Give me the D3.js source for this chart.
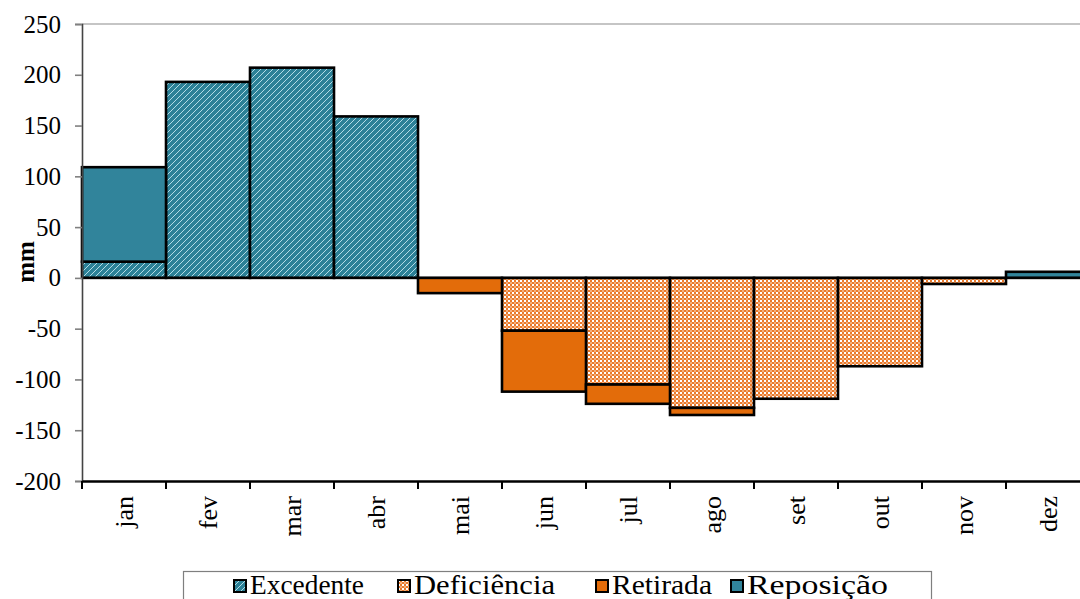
<!DOCTYPE html>
<html>
<head>
<meta charset="utf-8">
<script src="https://cdn.jsdelivr.net/npm/d3@7"></script>
<style>
  body { margin: 0; background: #fff; }
</style>
</head>
<body>
<div id="chart"></div>
<script>
// monthly water balance, stacked columns (mm)

var months = ["jan", "fev", "mar", "abr", "mai", "jun", "jul", "ago", "set", "out", "nov", "dez"];
var excedente  = [16, 193, 207, 159, 0, 0, 0, 0, 0, 0, 0, 0];
var deficiencia = [0, 0, 0, 0, 0, -52, -105, -128, -119, -87, -6, 0];
var retirada   = [0, 0, 0, 0, -15, -60, -19, -7, 0, 0, 0, 0];
var reposicao  = [93, 0, 0, 0, 0, 0, 0, 0, 0, 0, 0, 6];
var yTicks = [250, 200, 150, 100, 50, 0, -50, -100, -150, -200];

var seriesNames = ["Excedente", "Deficiência", "Retirada", "Reposição"];
var seriesKeys = ["exc", "def", "ret", "rep"];

var width = 1080, height = 599;
var padLeft = 82, padTop = 24, padBottom = 481;
var serif = '"Liberation Serif", "Times New Roman", Times, serif';

var table = months.map(function(m, i) {
  return { month: m, exc: excedente[i], def: deficiencia[i], ret: retirada[i], rep: reposicao[i] };
});

var svg = d3.select("#chart").append("svg")
    .attr("width", width)
    .attr("height", height);

var defs = svg.append("defs");

// wide upward diagonal (teal)
var pExc = defs.append("pattern")
    .attr("id", "pat-exc")
    .attr("patternUnits", "userSpaceOnUse")
    .attr("width", 6).attr("height", 6);
pExc.append("rect").attr("width", 6).attr("height", 6).attr("fill", "#2c8197");
pExc.append("path")
    .attr("d", "M-1,7 L7,-1 M-4,4 L4,-4 M2,10 L10,2")
    .attr("stroke", "#b3dbe5").attr("stroke-width", 1.0);

// small checker (orange)
var pDef = defs.append("pattern")
    .attr("id", "pat-def")
    .attr("patternUnits", "userSpaceOnUse")
    .attr("width", 4).attr("height", 4);
pDef.append("rect").attr("width", 4).attr("height", 4).attr("fill", "#ea7a2c");
pDef.append("rect").attr("width", 2).attr("height", 2).attr("fill", "#ffffff");
pDef.append("rect").attr("x", 2).attr("y", 2).attr("width", 2).attr("height", 2).attr("fill", "#f4b07e");

var fills = {
  exc: "url(#pat-exc)",
  def: "url(#pat-def)",
  ret: "#e36c0a",
  rep: "#31849b"
};

var x = d3.scaleBand()
    .domain(months)
    .range([padLeft, padLeft + 84 * 12])
    .padding(0);

var y = d3.scaleLinear()
    .domain([-200, 250])
    .range([padBottom, padTop]);

// plot area top border
svg.append("line")
    .attr("x1", padLeft).attr("x2", width)
    .attr("y1", y(250)).attr("y2", y(250))
    .attr("stroke", "#8c8c8c").attr("stroke-width", 1.2);

// stacked bars
var stack = d3.stack()
    .keys(seriesKeys)
    .offset(d3.stackOffsetDiverging);

var layers = stack(table);

svg.append("g")
  .selectAll("g")
  .data(layers)
  .enter().append("g")
    .attr("fill", function(d) { return fills[d.key]; })
  .selectAll("rect")
  .data(function(d) { return d.filter(function(p) { return p[1] - p[0] !== 0; }); })
  .enter().append("rect")
    .attr("x", function(d) { return x(d.data.month); })
    .attr("width", x.bandwidth())
    .attr("y", function(d) { return y(Math.max(d[0], d[1])); })
    .attr("height", function(d) { return Math.abs(y(d[0]) - y(d[1])); })
    .attr("stroke", "#000")
    .attr("stroke-width", 2.6);

// zero line
svg.append("line")
    .attr("x1", padLeft).attr("x2", width)
    .attr("y1", y(0)).attr("y2", y(0))
    .attr("stroke", "#000").attr("stroke-width", 2.2);

// y axis
var yAxis = d3.axisLeft(y)
    .tickValues(yTicks)
    .tickSize(7)
    .tickPadding(14)
    .tickFormat(d3.format("d"));

var gy = svg.append("g")
    .attr("transform", "translate(" + padLeft + ",0)")
    .call(yAxis)
    .attr("font-family", serif);
gy.select(".domain").attr("stroke", "#444").attr("stroke-width", 1.6);
gy.selectAll(".tick line").attr("stroke", "#808080").attr("stroke-width", 1.6);
gy.selectAll(".tick text")
    .style("font-family", serif)
    .style("font-size", "25px")
    .attr("fill", "#000")
    .text(function(d) { return d < 0 ? "-" + Math.abs(d) : d; });

// x axis at the bottom
var xAxis = d3.axisBottom(x)
    .tickSize(0)
    .tickFormat("");

var gx = svg.append("g")
    .attr("transform", "translate(0," + padBottom + ")")
    .call(xAxis);
gx.select(".domain").attr("stroke", "#000").attr("stroke-width", 2.6);

// boundary ticks between categories
svg.append("g")
  .selectAll("line")
  .data(months)
  .enter().append("line")
    .attr("x1", function(d) { return x(d); })
    .attr("x2", function(d) { return x(d); })
    .attr("y1", padBottom)
    .attr("y2", padBottom + 8)
    .attr("stroke", "#000")
    .attr("stroke-width", 2);

// rotated month labels
svg.append("g")
  .selectAll("text")
  .data(months)
  .enter().append("text")
    .attr("transform", function(d) {
      return "translate(" + (x(d) + x.bandwidth() / 2) + "," + (padBottom + 15) + ") rotate(-90)";
    })
    .attr("text-anchor", "end")
    .attr("dy", "0.35em")
    .style("font-family", serif)
    .style("font-size", "26px")
    .text(function(d) { return d; });

// y axis title
svg.append("text")
    .attr("transform", "translate(25,262) rotate(-90)")
    .attr("text-anchor", "middle")
    .attr("dy", "0.35em")
    .style("font-family", serif)
    .style("font-size", "25px")
    .style("font-weight", "bold")
    .text("mm");

// legend
var legend = svg.append("g");
legend.append("rect")
    .attr("x", 183.5).attr("y", 571.5)
    .attr("width", 748).attr("height", 40)
    .attr("fill", "#fff")
    .attr("stroke", "#7f7f7f")
    .attr("stroke-width", 1.2);

var legendX = [234, 398, 596, 731];
var legendW = [114, 141, 100, 141];

var items = legend.selectAll("g.item")
    .data(seriesKeys)
    .enter().append("g")
    .attr("class", "item")
    .attr("transform", function(d, i) { return "translate(" + legendX[i] + ",580)"; });

items.append("rect")
    .attr("width", 12).attr("height", 12)
    .attr("fill", function(d) { return fills[d]; })
    .attr("stroke", "#000")
    .attr("stroke-width", 2);

items.append("text")
    .attr("x", 16)
    .attr("y", 5)
    .attr("dy", "0.35em")
    .attr("textLength", function(d, i) { return legendW[i]; })
    .attr("lengthAdjust", "spacingAndGlyphs")
    .style("font-family", serif)
    .style("font-size", "27px")
    .text(function(d, i) { return seriesNames[i]; });
</script>
</body>
</html>
